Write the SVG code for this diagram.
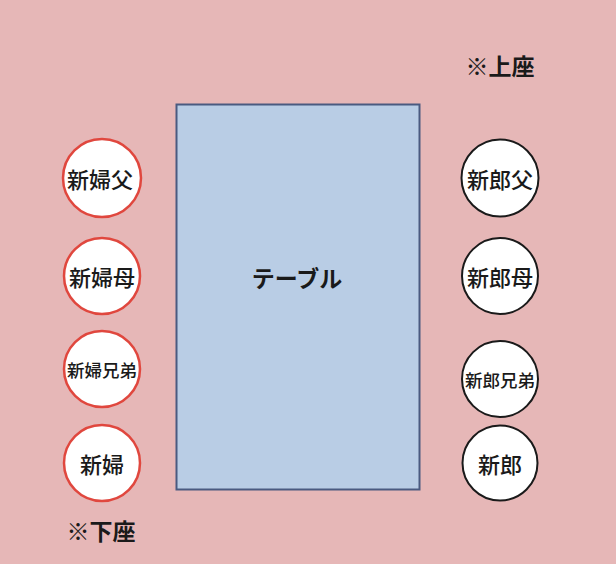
<svg xmlns="http://www.w3.org/2000/svg" width="616" height="564" viewBox="0 0 616 564">
<style>
text{font-family:"Noto Sans CJK JP","Noto Sans CJK SC",sans-serif;fill:#1a1a1a;text-anchor:middle;dominant-baseline:central}
.bride{fill:#fff;stroke:#e0473e;stroke-width:2.5}
.groom{fill:#fff;stroke:#1a1a1a;stroke-width:2}
.n{font-size:22px;font-weight:500}
.s{font-size:17.5px;font-weight:500}
.note{font-size:23px;font-weight:700}
</style>
<rect width="616" height="564" fill="#e6b7b7"/>
<g id="table"><rect x="176.5" y="104.5" width="243" height="385" fill="#b9cde5" stroke="#4a5a80" stroke-width="2"/><text x="297" y="277" style="font-size:23px;font-weight:700">テーブル</text></g>
<g id="bride-father"><circle cx="102" cy="178" r="39" class="bride"/><text x="100" y="178" class="n">新婦父</text></g>
<g id="bride-mother"><circle cx="102" cy="276" r="38" class="bride"/><text x="102" y="276" class="n">新婦母</text></g>
<g id="bride-sibling"><circle cx="102" cy="369" r="38" class="bride"/><text x="102" y="369" class="s">新婦兄弟</text></g>
<g id="bride"><circle cx="102" cy="463" r="38" class="bride"/><text x="102" y="463" class="n">新婦</text></g>
<g id="groom-father"><circle cx="500" cy="178" r="38.5" class="groom"/><text x="500" y="178" class="n">新郎父</text></g>
<g id="groom-mother"><circle cx="500" cy="276" r="38" class="groom"/><text x="500" y="276" class="n">新郎母</text></g>
<g id="groom-sibling"><circle cx="500" cy="379" r="38" class="groom"/><text x="500" y="379" class="s">新郎兄弟</text></g>
<g id="groom"><circle cx="500" cy="463" r="37.5" class="groom"/><text x="500" y="463" class="n">新郎</text></g>
<g id="connectors"/>
<text x="500" y="65" class="note">※上座</text>
<text x="101" y="530" class="note">※下座</text>
</svg>
